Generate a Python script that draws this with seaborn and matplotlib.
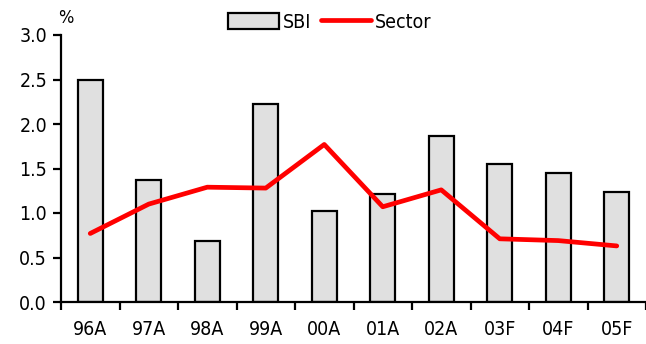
import matplotlib
matplotlib.use("Agg")
import matplotlib.pyplot as plt
import seaborn as sns
import numpy as np
import pandas as pd
from matplotlib.patches import Patch
from matplotlib.lines import Line2D
from matplotlib.ticker import FixedLocator, FormatStrFormatter

years = ["96A", "97A", "98A", "99A", "00A", "01A", "02A", "03F", "04F", "05F"]
sbi = [2.50, 1.37, 0.69, 2.22, 1.02, 1.21, 1.86, 1.55, 1.45, 1.24]
sector = [0.77, 1.10, 1.29, 1.28, 1.77, 1.07, 1.26, 0.71, 0.69, 0.63]
yticks = [0.0, 0.5, 1.0, 1.5, 2.0, 2.5, 3.0]

sns.set_style("white")
plt.rcParams["font.family"] = ["DejaVu Sans"]
plt.rcParams["font.stretch"] = "condensed"
plt.rcParams["font.size"] = 14
plt.rcParams["text.color"] = "black"

df = pd.DataFrame({"year": years, "SBI": sbi, "Sector": sector})

fig = plt.figure(figsize=(6.46, 3.44), dpi=100)
ax = fig.add_axes([61 / 646, 1 - 302 / 344, (646 - 61) / 646, (302 - 35) / 344])

sns.barplot(data=df, x="year", y="SBI", color="#e0e0e0", edgecolor="black",
            linewidth=1.6, width=0.42, saturation=1, ax=ax)
sns.pointplot(data=df, x="year", y="Sector", color="#ff0000", markers="",
              linestyles="-", linewidth=3.4, ax=ax)

ax.set_xlim(-0.5, 9.5)
ax.yaxis.set_major_locator(FixedLocator(yticks))
ax.yaxis.set_major_formatter(FormatStrFormatter("%.1f"))
ax.set_ylim(0, 3.0)
ax.set_xlabel("")
ax.set_ylabel("")

for s in ["top", "right"]:
    ax.spines[s].set_visible(False)
for s in ["left", "bottom"]:
    ax.spines[s].set_linewidth(1.6)
    ax.spines[s].set_color("black")

ax.tick_params(axis="y", which="major", direction="out", length=6, width=1.6,
               left=True, labelsize=14, pad=4, colors="black")
ax.tick_params(axis="x", which="major", length=0, labelsize=14, pad=13,
               colors="black")
ax.xaxis.set_minor_locator(FixedLocator(np.arange(-0.5, 9.6, 1.0)))
ax.tick_params(axis="x", which="minor", direction="out", length=6, width=1.6,
               bottom=True, colors="black")

fig.text(66 / 646, 1 - 18 / 344, "%", fontsize=13, ha="center", va="center",
         color="black")

handles = [Patch(facecolor="#e0e0e0", edgecolor="black", linewidth=1.6, label="SBI"),
           Line2D([0], [0], color="#ff0000", linewidth=3.4, label="Sector")]
fig.legend(handles=handles, loc="center", bbox_to_anchor=(330 / 646, 1 - 22 / 344),
           ncol=2, frameon=False, fontsize=14, handlelength=2.6, handleheight=0.9,
           handletextpad=0.2, columnspacing=0.5, labelcolor="black")

fig.savefig("out.png", dpi=100)
